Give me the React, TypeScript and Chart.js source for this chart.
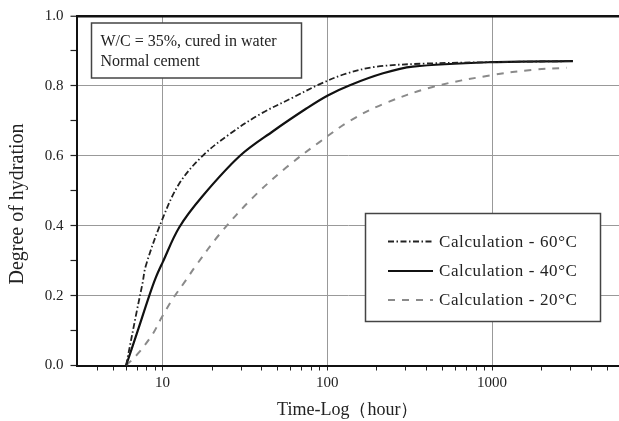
import React, { useEffect, useRef } from 'react';
import { Chart, registerables } from 'chart.js';

Chart.register(...registerables);

const FONT = '"Liberation Serif", "DejaVu Serif", "Times New Roman", serif';

// ---- data ----
const seriesLabels = ['Calculation - 60°C', 'Calculation - 40°C', 'Calculation - 20°C'];

const t60 = [6, 7, 7.55, 7.9, 9.8, 12.6, 17.5, 25.5, 39, 62, 90, 130, 200, 400, 1000, 3100];
const v60 = [0, 0.16, 0.235, 0.285, 0.41, 0.52, 0.6, 0.662, 0.719, 0.767, 0.805, 0.835, 0.855, 0.864, 0.868, 0.871];

const t40 = [6, 7, 8.3, 9.1, 10, 12.6, 17.5, 29.5, 47, 75, 100, 137, 218, 330, 1000, 3100];
const v40 = [0, 0.094, 0.2, 0.252, 0.295, 0.395, 0.485, 0.6, 0.671, 0.736, 0.772, 0.802, 0.836, 0.855, 0.868, 0.871];

const t20 = [6, 7.05, 8.7, 9.8, 11.5, 13.9, 15.6, 22.2, 35.4, 56.5, 90, 137, 218, 436, 1000, 1770, 2840];
const v20 = [0, 0.033, 0.09, 0.135, 0.19, 0.245, 0.28, 0.376, 0.481, 0.567, 0.64, 0.7, 0.748, 0.797, 0.831, 0.846, 0.852];

const xMin = 3;
const xMax = 5900;
const xTickValues = [4, 5, 6, 7, 8, 9, 10, 20, 30, 40, 50, 60, 70, 80, 90, 100, 200, 300, 400, 500, 600, 700, 800, 900, 1000, 2000, 3000, 4000, 5000];
const xLabelValues = [10, 100, 1000];
const yTickValues = [0, 0.1, 0.2, 0.3, 0.4, 0.5, 0.6, 0.7, 0.8, 0.9, 1.0];
const yLabelValues = [0, 0.2, 0.4, 0.6, 0.8, 1.0];

const noteLines = ['W/C = 35%, cured in water', 'Normal cement'];
const xTitle = 'Time-Log（hour）';
const yTitle = 'Degree of hydration';

const toPoints = (t: number[], v: number[]) => t.map((x, i) => ({ x, y: v[i] }));
const isYLabel = (v: number) => yLabelValues.some((l) => Math.abs(l - v) < 1e-9);

const overlayPlugin = {
  id: 'overlay',
  afterDraw(chart: any) {
    const ctx: CanvasRenderingContext2D = chart.ctx;
    // y-axis title
    ctx.save();
    ctx.fillStyle = '#222';
    ctx.font = `20px ${FONT}`;
    ctx.translate(18, 204);
    ctx.rotate(-Math.PI / 2);
    ctx.textAlign = 'center';
    ctx.textBaseline = 'middle';
    ctx.fillText(yTitle, 0, 0);
    ctx.restore();

    // note box
    ctx.save();
    ctx.fillStyle = '#fff';
    ctx.fillRect(91.5, 23, 210, 55);
    ctx.strokeStyle = '#444';
    ctx.lineWidth = 1.5;
    ctx.strokeRect(91.5, 23, 210, 55);
    ctx.fillStyle = '#222';
    ctx.font = `16px ${FONT}`;
    ctx.textAlign = 'left';
    ctx.textBaseline = 'middle';
    noteLines.forEach((line, i) => ctx.fillText(line, 100.5, 42 + i * 19.5));
    ctx.restore();

    // legend box
    ctx.save();
    ctx.fillStyle = '#fff';
    ctx.fillRect(365.5, 213.5, 235, 108);
    ctx.strokeStyle = '#444';
    ctx.lineWidth = 1.5;
    ctx.strokeRect(365.5, 213.5, 235, 108);
    const rows = [241.5, 271, 300];
    chart.data.datasets.forEach((ds: any, i: number) => {
      const y = rows[i];
      ctx.save();
      ctx.strokeStyle = ds.borderColor;
      ctx.lineWidth = ds.borderWidth;
      ctx.setLineDash(ds.borderDash || []);
      ctx.beginPath();
      ctx.moveTo(388, y);
      ctx.lineTo(433, y);
      ctx.stroke();
      ctx.restore();
      ctx.fillStyle = '#222';
      ctx.font = `17px ${FONT}`;
      (ctx as any).letterSpacing = '0.6px';
      ctx.textAlign = 'left';
      ctx.textBaseline = 'middle';
      ctx.fillText(ds.label, 439, y + 1);
    });
    ctx.restore();
  },
};

export default function App() {
  const canvasRef = useRef<HTMLCanvasElement | null>(null);

  useEffect(() => {
    if (!canvasRef.current) return;
    const chart = new Chart(canvasRef.current, {
      type: 'line',
      data: {
        datasets: [
          {
            label: seriesLabels[0],
            data: toPoints(t60, v60),
            borderColor: '#222',
            borderWidth: 1.8,
            borderDash: [6, 2.5, 1.5, 2.5],
            pointRadius: 0,
            fill: false,
            tension: 0.35,
          },
          {
            label: seriesLabels[1],
            data: toPoints(t40, v40),
            borderColor: '#111',
            borderWidth: 2.2,
            pointRadius: 0,
            fill: false,
            tension: 0.35,
          },
          {
            label: seriesLabels[2],
            data: toPoints(t20, v20),
            borderColor: '#8a8a8a',
            borderWidth: 2,
            borderDash: [7, 7],
            pointRadius: 0,
            fill: false,
            tension: 0.35,
          },
        ],
      },
      options: {
        responsive: false,
        animation: false,
        events: [],
        layout: { padding: { top: 15, right: 0, bottom: 0, left: 0 } },
        plugins: {
          legend: { display: false },
          tooltip: { enabled: false },
        },
        scales: {
          x: {
            type: 'logarithmic',
            min: xMin,
            max: xMax,
            bounds: 'data',
            afterBuildTicks: (s: any) => {
              s.ticks = xTickValues.map((v) => ({ value: v }));
            },
            afterFit: (s: any) => {
              s.height = 55.5;
            },
            ticks: {
              autoSkip: false,
              maxRotation: 0,
              minRotation: 0,
              padding: 4,
              color: '#222',
              font: { family: FONT, size: 15 },
              callback: (v: any) => (xLabelValues.includes(Number(v)) ? String(v) : ''),
            },
            grid: {
              color: (c: any) => (c.tick && xLabelValues.includes(c.tick.value) ? '#999' : 'transparent'),
              lineWidth: 1,
              tickColor: '#222',
              tickLength: 5,
            },
            border: { color: '#111', width: 2 },
            title: {
              display: true,
              text: xTitle,
              color: '#222',
              font: { family: FONT, size: 18 },
              padding: { top: 0, bottom: 0 },
            },
          },
          y: {
            type: 'linear',
            min: 0,
            max: 1,
            afterBuildTicks: (s: any) => {
              s.ticks = yTickValues.map((v) => ({ value: v }));
            },
            afterFit: (s: any) => {
              s.width = 76.5;
            },
            ticks: {
              autoSkip: false,
              padding: 7,
              color: '#222',
              font: { family: FONT, size: 15 },
              callback: (v: any) => (isYLabel(Number(v)) ? Number(v).toFixed(1) : ''),
            },
            grid: {
              color: (c: any) => {
                const v = c.tick ? c.tick.value : -1;
                if (Math.abs(v - 1) < 1e-9) return '#111';
                if (v > 0 && isYLabel(v)) return '#999';
                return 'transparent';
              },
              lineWidth: (c: any) => (c.tick && Math.abs(c.tick.value - 1) < 1e-9 ? 2.5 : 1),
              tickColor: '#222',
              tickWidth: 1.2,
              tickLength: 6,
            },
            border: { color: '#111', width: 2 },
          },
        },
      } as any,
      plugins: [overlayPlugin],
    });
    return () => chart.destroy();
  }, []);

  return (
    <div style={{ position: 'fixed', left: 0, top: 0, width: 619, height: 421, background: '#fff' }}>
      <canvas ref={canvasRef} width={619} height={421} />
    </div>
  );
}
